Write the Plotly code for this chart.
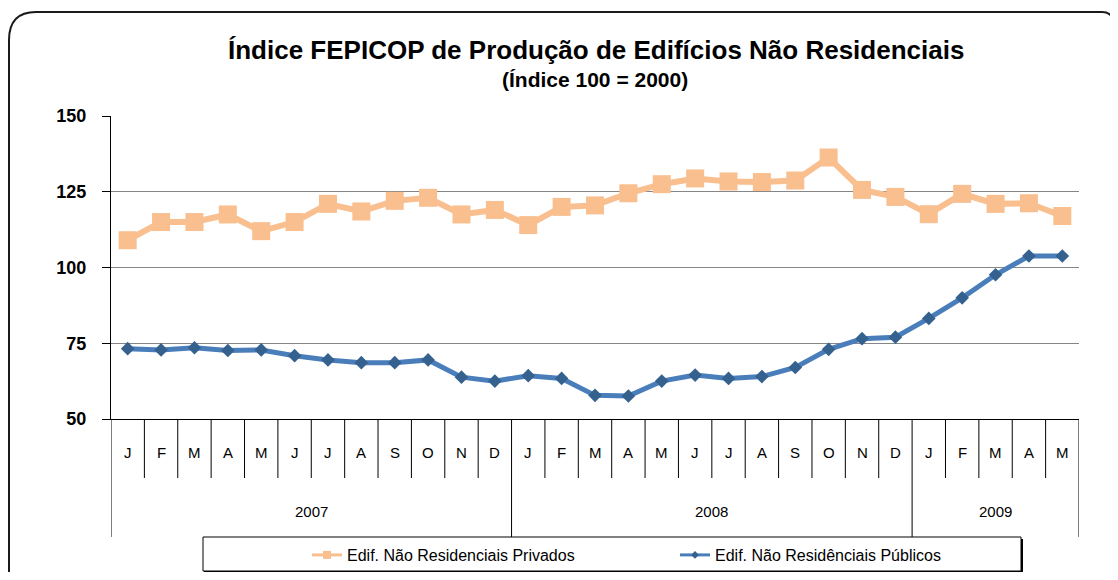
import plotly.graph_objects as go

# ---- data ----
months = ["J", "F", "M", "A", "M", "J", "J", "A", "S", "O", "N", "D",
          "J", "F", "M", "A", "M", "J", "J", "A", "S", "O", "N", "D",
          "J", "F", "M", "A", "M"]
years = ["2007", "2008", "2009"]
months_per_year = [12, 12, 5]

privados = [109, 115, 115, 117.5, 112, 115, 121, 118.5, 122, 123, 117.5, 119,
            114, 120, 120.5, 124.5, 127.5, 129.4, 128.4, 128.2, 128.7, 136.3, 125.6, 123.3,
            117.6, 124.3, 121, 121.2, 117]
publicos = [73.2, 72.8, 73.5, 72.6, 72.8, 70.9, 69.5, 68.6, 68.6, 69.5, 63.8, 62.5,
            64.3, 63.4, 57.8, 57.6, 62.5, 64.5, 63.4, 64, 67, 73, 76.5, 77,
            83.2, 90, 97.6, 103.8, 103.8]

name_priv = "Edif. Não Residenciais Privados"
name_pub = "Edif. Não Residênciais Públicos"
title = "Índice FEPICOP de Produção de Edifícios Não Residenciais"
subtitle = "(Índice 100 = 2000)"

# ---- layout geometry (page pixels; page body has an 8px margin) ----
OFFX, OFFY = 8, 8
W, H = 1102, 564
PL, PR, PT, PB = 111, 1079, 116, 419


def fx(px):
    return (px - PL) / (PR - PL)


def fy(py):
    return (PB - py) / (PB - PT)


def cx_(px):
    return (px - OFFX) / W


def cy_(py):
    return (H - (py - OFFY)) / H


FONT = "Liberation Sans, Arial, sans-serif"
ORANGE = "#F9BF8F"
BLUE_LINE = "#4A7EBB"
BLUE_MARK = "#35618F"

x = list(range(len(months)))

fig = go.Figure()
fig.add_trace(go.Scatter(x=x, y=privados, mode="lines+markers", name=name_priv,
                         line=dict(color=ORANGE, width=6),
                         marker=dict(symbol="square", size=18, color=ORANGE),
                         showlegend=False))
fig.add_trace(go.Scatter(x=x, y=publicos, mode="lines+markers", name=name_pub,
                         line=dict(color=BLUE_LINE, width=5),
                         marker=dict(symbol="diamond", size=10.5, color=BLUE_MARK),
                         showlegend=False))
# legend entries (small symbols like the reference)
fig.add_trace(go.Scatter(x=[None], y=[None], mode="lines+markers", name=name_priv,
                         line=dict(color=ORANGE, width=3),
                         marker=dict(symbol="square", size=8, color=ORANGE)))
fig.add_trace(go.Scatter(x=[None], y=[None], mode="lines+markers", name=name_pub,
                         line=dict(color=BLUE_LINE, width=3),
                         marker=dict(symbol="diamond", size=6, color=BLUE_MARK)))

shapes = []
annotations = []

n = len(months)
boundaries = [-0.5]
acc = -0.5
for c in months_per_year:
    acc += c
    boundaries.append(acc)

for i in range(1, n):
    b = i - 0.5
    if b in boundaries:
        continue
    shapes.append(dict(type="line", xref="x", yref="paper", x0=b, x1=b,
                       y0=0, y1=fy(478), line=dict(color="black", width=1)))
for b in boundaries:
    shapes.append(dict(type="line", xref="x", yref="paper", x0=b, x1=b,
                       y0=0, y1=fy(537), line=dict(color="black", width=1)))

for i, m in enumerate(months):
    annotations.append(dict(x=i, y=fy(452), xref="x", yref="paper", text=m,
                            showarrow=False, xanchor="center", yanchor="middle",
                            font=dict(family=FONT, size=15, color="black")))
for k, yr in enumerate(years):
    cx = (boundaries[k] + boundaries[k + 1]) / 2
    annotations.append(dict(x=cx, y=fy(511), xref="x", yref="paper", text=yr,
                            showarrow=False, xanchor="center", yanchor="middle",
                            font=dict(family=FONT, size=15, color="black")))

annotations.append(dict(x=fx(596), y=fy(50), xref="paper", yref="paper", text="<b>" + title + "</b>",
                        showarrow=False, xanchor="center", yanchor="middle",
                        font=dict(family=FONT, size=26, color="black")))
annotations.append(dict(x=fx(595), y=fy(79), xref="paper", yref="paper", text="<b>" + subtitle + "</b>",
                        showarrow=False, xanchor="center", yanchor="middle",
                        font=dict(family=FONT, size=21, color="black")))

# legend box
shapes.append(dict(type="rect", xref="paper", yref="paper", x0=fx(203), x1=fx(1021),
                   y0=fy(571), y1=fy(537), line=dict(color="black", width=1)))
shapes.append(dict(type="line", xref="paper", yref="paper", x0=fx(204), x1=fx(1022),
                   y0=fy(572), y1=fy(572), line=dict(color="black", width=2)))
shapes.append(dict(type="line", xref="paper", yref="paper", x0=fx(1022), x1=fx(1022),
                   y0=fy(539), y1=fy(572), line=dict(color="black", width=2)))

# outer rounded border
path = (f"M {fx(9)},{fy(600)} L {fx(9)},{fy(40)} Q {fx(9)},{fy(12)} {fx(36)},{fy(12)} "
        f"L {fx(1102)},{fy(12)} Q {fx(1112)},{fy(12)} {fx(1114)},{fy(22)} L {fx(1114)},{fy(600)}")
shapes.append(dict(type="path", xref="paper", yref="paper", path=path,
                   line=dict(color="#1a1a1a", width=2)))

fig.update_layout(
    width=W, height=H,
    margin=dict(l=PL - OFFX, r=W - (PR - OFFX), t=PT - OFFY, b=H - (PB - OFFY)),
    paper_bgcolor="white", plot_bgcolor="white",
    showlegend=True,
    legend=dict(orientation="h", xref="container", yref="container",
                x=cx_(307), y=cy_(555), xanchor="left", yanchor="middle",
                entrywidth=323, entrywidthmode="pixels",
                font=dict(family=FONT, size=16, color="black"),
                bgcolor="rgba(0,0,0,0)", borderwidth=0, tracegroupgap=0),
    xaxis=dict(range=[-0.5, n - 0.5], showticklabels=False, showgrid=False, zeroline=False,
               showline=True, linecolor="black", linewidth=1, ticks=""),
    yaxis=dict(range=[50, 150], tickvals=[50, 75, 100, 125, 150], showgrid=True,
               gridcolor="#868686", gridwidth=1, zeroline=False,
               showline=True, linecolor="black", linewidth=1,
               ticks="outside", ticklen=8, tickcolor="black", ticklabelstandoff=12,
               tickfont=dict(family=FONT, size=18, color="black", weight="bold")),
    shapes=shapes, annotations=annotations,
)

fig.write_html("out.html")
